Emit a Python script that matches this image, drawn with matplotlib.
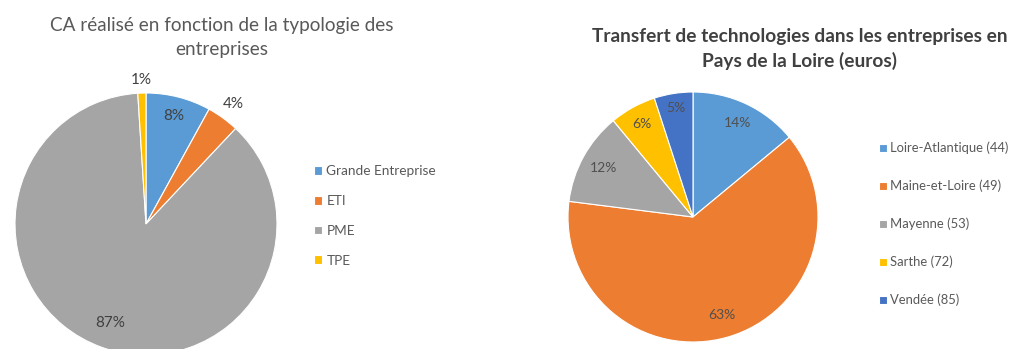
import matplotlib
matplotlib.use('Agg')
import numpy as np
import matplotlib.pyplot as plt

plt.rcParams['font.family'] = ['Lato', 'DejaVu Sans']

# CA par typologie d'entreprise (%)
typo_labels = ['Grande Entreprise', 'ETI', 'PME', 'TPE']
typo_values = [8, 4, 87, 1]
typo_colors = ['#5B9BD5', '#ED7D31', '#A5A5A5', '#FFC000']

# Transfert de technologies par département (%)
dept_labels = ['Loire-Atlantique (44)', 'Maine-et-Loire (49)', 'Mayenne (53)',
               'Sarthe (72)', 'Vendée (85)']
dept_values = [14, 63, 12, 6, 5]
dept_colors = ['#5B9BD5', '#ED7D31', '#A5A5A5', '#FFC000', '#4472C4']

W, H = 1011, 349


def px_axes(fig, cx, cy, r):
    # axes square around a pie centre given in pixels (y from top)
    return fig.add_axes([(cx - r) / W, (H - cy - r) / H, 2 * r / W, 2 * r / H])


def draw_pie(ax, values, colors, label_r, txt_color, fs):
    wedges, _ = ax.pie(values, colors=colors, startangle=90, counterclock=False,
                       radius=1, wedgeprops=dict(edgecolor='white', linewidth=0.8))
    for w, v, r in zip(wedges, values, label_r):
        mid = np.deg2rad((w.theta1 + w.theta2) / 2)
        ax.text(r * np.cos(mid), r * np.sin(mid), f'{v}%', ha='center', va='center',
                fontsize=fs, color=txt_color)
    ax.set_xlim(-1, 1)
    ax.set_ylim(-1, 1)
    ax.axis('off')
    return wedges


fig = plt.figure(figsize=(W / 100, H / 100), dpi=100)

# left chart
ax1 = px_axes(fig, 146, 224, 131)
w1 = draw_pie(ax1, typo_values, typo_colors, [0.85, 1.13, 0.8, 1.1], '#404040', 11)
fig.text(222 / W, 1 - 37 / H, 'CA réalisé en fonction de la typologie des\nentreprises',
         ha='center', va='center', fontsize=13.6, color='#595959', linespacing=1.5)
fig.legend(w1, typo_labels, loc='center left', bbox_to_anchor=(302 / W, 1 - 216 / H),
           frameon=False, fontsize=9.8, handlelength=0.6, handleheight=0.6,
           handletextpad=0.3, labelspacing=1.3, labelcolor='#595959')

# right chart
ax2 = px_axes(fig, 693, 217, 125)
w2 = draw_pie(ax2, dept_values, dept_colors, [0.83, 0.82, 0.82, 0.85, 0.88], '#505050', 10)
fig.text(800 / W, 1 - 49 / H,
         'Transfert de technologies dans les entreprises en\nPays de la Loire (euros)',
         ha='center', va='center', fontsize=13.8, fontweight='bold', color='#404040',
         linespacing=1.4)
fig.legend(w2, dept_labels, loc='center left', bbox_to_anchor=(867 / W, 1 - 224 / H),
           frameon=False, fontsize=9.4, handlelength=0.6, handleheight=0.6,
           handletextpad=0.3, labelspacing=1.95, labelcolor='#595959')

fig.savefig('out.png', dpi=100)
